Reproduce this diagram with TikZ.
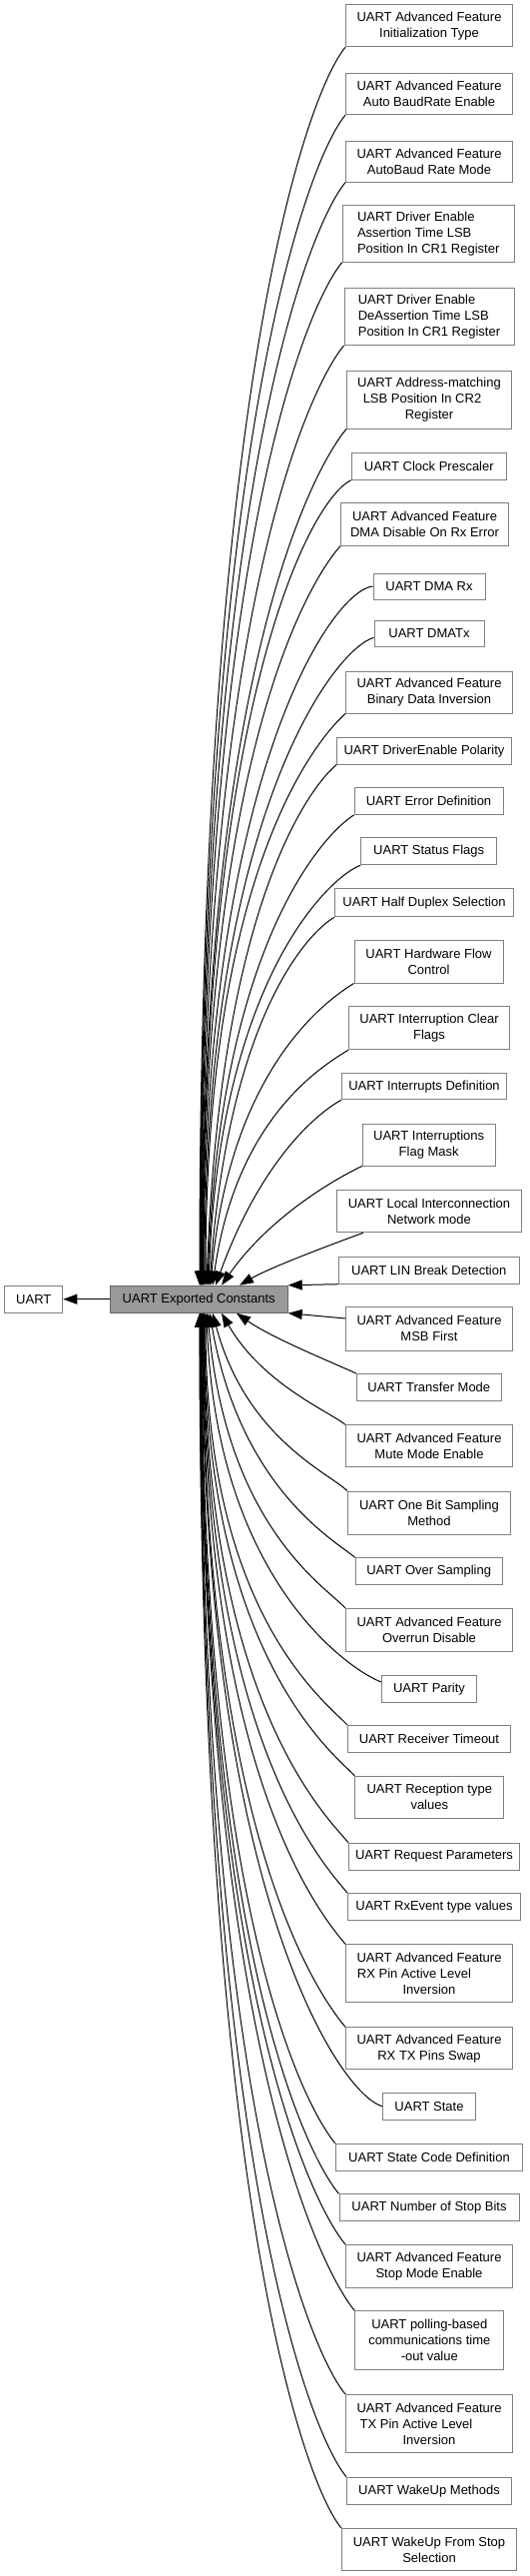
\documentclass[tikz,border=0pt]{standalone}
\usepackage{fontspec}
\setmainfont{Liberation Sans}
\usetikzlibrary{arrows.meta, calc}

\definecolor{boxline}{HTML}{808080}
\definecolor{curfill}{HTML}{999999}
\definecolor{curline}{HTML}{666666}

\begin{document}
\begin{tikzpicture}[x=1pt, y=1pt, line width=1pt,
  box/.style={draw=boxline, fill=white, inner sep=0pt, align=center,
    font=\fontsize{13}{16}\selectfont},
  cur/.style={box, draw=curline, fill=curfill},
  wh/.style 2 args={minimum width=#1pt, minimum height=#2pt},
  edge/.style={-{Triangle[length=14pt, width=10pt]}, black}]

  \useasboundingbox (0,0) rectangle (530,-2579);

  % the group and its parent
  \node[box, wh={58}{27}]  (uart) at (33.8,-1300.7) {UART};
  \node[cur, wh={178}{27}] (exp)  at (199.2,-1300.7) {UART Exported Constants};

  % sub-groups, top to bottom
  \node[box, wh={167}{42}] (n01) at (430,-25.8)   {UART Advanced Feature\\Initialization Type};
  \node[box, wh={167}{41}] (n02) at (430,-94.2)   {UART Advanced Feature\\Auto BaudRate Enable};
  \node[box, wh={167}{41}] (n03) at (430,-161.7)  {UART Advanced Feature\\AutoBaud Rate Mode};
  \node[box, wh={172}{57}, align=left] (n04) at (429.2,-233.7)
    {UART Driver Enable\\Assertion Time LSB\\Position In CR1 Register};
  \node[box, wh={170}{57}, align=left] (n05) at (430,-317)
    {UART Driver Enable\\DeAssertion Time LSB\\Position In CR1 Register};
  \node[box, wh={165}{58}] (n06) at (430,-400)    {UART Address-matching\\LSB Position In CR2\kern14pt\\Register};
  \node[box, wh={155}{27}] (n07) at (429.8,-466.7) {UART Clock Prescaler};
  \node[box, wh={168}{43}] (n08) at (425.5,-524.7) {UART Advanced Feature\\DMA Disable On Rx Error};
  \node[box, wh={112}{26}] (n09) at (430,-587)    {UART DMA Rx};
  \node[box, wh={110}{26}] (n10) at (430,-634.5)  {UART DMATx};
  \node[box, wh={167}{42}] (n11) at (430,-693)    {UART Advanced Feature\\Binary Data Inversion};
  \node[box, wh={175}{27}] (n12) at (425,-751.7)  {UART DriverEnable Polarity};
  \node[box, wh={149}{27}] (n13) at (429.5,-802)  {UART Error Definition};
  \node[box, wh={136}{27}] (n14) at (429.7,-852.3) {UART Status Flags};
  \node[box, wh={179}{28}] (n15) at (425,-903.8)  {UART Half Duplex Selection};
  \node[box, wh={149}{43}] (n16) at (429.5,-962.5) {UART Hardware Flow\\Control};
  \node[box, wh={161}{43}] (n17) at (430,-1029.2) {UART Interruption Clear\\Flags};
  \node[box, wh={165}{26}] (n18) at (425,-1087.8) {UART Interrupts Definition};
  \node[box, wh={133}{42}] (n19) at (429.7,-1146) {UART Interruptions\\Flag Mask};
  \node[box, wh={185}{42}] (n20) at (430,-1212.8) {UART Local Interconnection\\Network mode};
  \node[box, wh={181}{27}] (n21) at (429.7,-1271.7) {UART LIN Break Detection};
  \node[box, wh={167}{44}] (n22) at (430,-1330.3) {UART Advanced Feature\\MSB First};
  \node[box, wh={145}{27}] (n23) at (429.8,-1389) {UART Transfer Mode};
  \node[box, wh={167}{42}] (n24) at (430,-1447.8) {UART Advanced Feature\\Mute Mode Enable};
  \node[box, wh={163}{43}] (n25) at (430,-1514.7) {UART One Bit Sampling\\Method};
  \node[box, wh={147}{27}] (n26) at (429.7,-1573.3) {UART Over Sampling};
  \node[box, wh={167}{43}] (n27) at (430,-1632)   {UART Advanced Feature\\Overrun Disable};
  \node[box, wh={95}{27}]  (n28) at (430,-1690.7) {UART Parity};
  \node[box, wh={163}{27}] (n29) at (430,-1741)   {UART Receiver Timeout};
  \node[box, wh={149}{42}] (n30) at (430.3,-1799.2) {UART Reception type\\values};
  \node[box, wh={171}{27}] (n31) at (435,-1858.7) {UART Request Parameters};
  \node[box, wh={173}{27}] (n32) at (435,-1909)   {UART RxEvent type values};
  \node[box, wh={167}{58}] (n33) at (430,-1975.8) {UART Advanced Feature\\RX Pin Active Level\kern30pt\\Inversion};
  \node[box, wh={167}{42}] (n34) at (430,-2050.8) {UART Advanced Feature\\RX TX Pins Swap};
  \node[box, wh={93}{27}]  (n35) at (430,-2108.7) {UART State};
  \node[box, wh={187}{27}] (n36) at (430,-2160)   {UART State Code Definition};
  \node[box, wh={180}{27}] (n37) at (430,-2210.3) {UART Number of Stop Bits};
  \node[box, wh={167}{43}] (n38) at (430,-2269)   {UART Advanced Feature\\Stop Mode Enable};
  \node[box, wh={149}{59}] (n39) at (430.3,-2343.3) {UART polling-based\\communications time\\-out value};
  \node[box, wh={167}{58}] (n40) at (430,-2426.5) {UART Advanced Feature\\TX Pin Active Level\kern26pt\\Inversion};
  \node[box, wh={165}{27}] (n41) at (430,-2493.7) {UART WakeUp Methods};
  \node[box, wh={175}{42}] (n42) at (430,-2552.5) {UART WakeUp From Stop\\Selection};

  % group -> parent
  \draw[edge] (exp) -- (uart);

  % upper sub-groups come in from above
  \foreach \g/\a/\o/\e/\i in {
      n01/south west/230/200/90, n02/south west/230/200.5/90,
      n03/south west/230/201/90, n04/south west/230/201.5/90,
      n05/south west/230/202/90, n06/south west/230/202.5/90,
      n07/south west/205/203/90, n08/south west/228/203.5/90,
      n09/west/185/204/90,       n10/184/195/205/90,
      n11/south west/222/206/90, n12/south west/220/207/88,
      n13/south west/212/208/88, n14/south west/200/209/88,
      n15/south west/210/210/86, n16/south west/212/211/85,
      n17/south west/212/213/82, n18/south west/208/216/70,
      n19/south west/205/222/55, n20/198/200/240/30}
    \draw[edge] let \p1=(\g.\a), \p2=(\e,0 |- exp.north), \n1={abs(\y1-\y2)} in
      (\p1) .. controls +(\o:{0.03*\n1+20}) and +(\i:{0.73*\n1}) .. (\p2);

  % the two beside it
  \draw[edge] (n21.south west) -- (exp.north east);
  \draw[edge] (n22.173) -- (exp.south east);

  % lower sub-groups come in from below
  \foreach \g/\a/\o/\e/\i in {
      n23/north west/155/237/325, n24/north west/142/222/300,
      n25/north west/135/213/285, n26/north west/140/210/280,
      n27/north west/132/208/275, n28/172/160/207/272,
      n29/north west/133/206/270, n30/north west/135/205/270,
      n31/north west/130/204.5/270, n32/north west/130/204/270,
      n33/north west/130/203.5/270, n34/north west/130/203/270,
      n35/west/165/202.5/270,     n36/north west/130/202/270,
      n37/north west/130/201.5/270, n38/north west/130/201/270,
      n39/north west/130/200.8/270, n40/north west/130/200.5/270,
      n41/north west/130/200.2/270, n42/north west/130/200/270}
    \draw[edge] let \p1=(\g.\a), \p2=(\e,0 |- exp.south), \n1={abs(\y1-\y2)} in
      (\p1) .. controls +(\o:{0.03*\n1+20}) and +(\i:{0.73*\n1}) .. (\p2);
\end{tikzpicture}
\end{document}
